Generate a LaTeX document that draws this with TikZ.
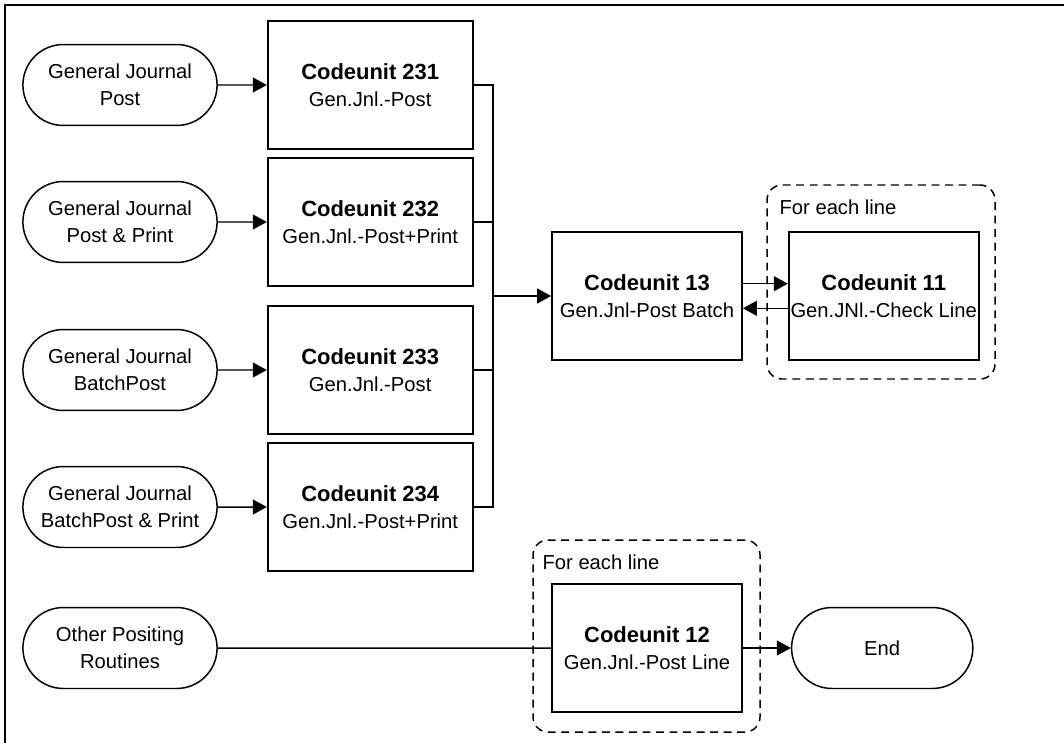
\documentclass[tikz,border=0pt]{standalone}
\usepackage{fontspec}
\setmainfont{Liberation Sans}
\usetikzlibrary{arrows.meta}
\usetikzlibrary{shapes.misc, positioning, fit}
\newcommand{\cuname}[1]{{\fontsize{12.5}{15.3}\selectfont\bfseries Codeunit #1}}

\begin{document}
\begin{tikzpicture}[
        x=0.02cm, y=-0.02cm,
        node distance=0.98cm, % hueco entre ovalo y caja
        every node/.style={font=\fontsize{11.5}{15.3}\selectfont},
        src/.style={draw, line width=0.85pt, rounded rectangle, minimum width=3.92cm, minimum height=1.62cm, align=center, inner sep=0.5pt},
        unit/.style={draw, line width=1pt, minimum width=4.1cm, minimum height=2.56cm, align=center, inner sep=0.5pt},
        cunit/.style={unit, minimum width=3.8cm},
        loop/.style={draw, dash pattern=on 4.5pt off 3.2pt, line width=0.85pt, rounded corners=0.3cm, inner sep=0pt},
        lbl/.style={inner sep=0pt},
        line/.style={line width=0.85pt},
        arr/.style={line, -{Triangle[length=8pt, width=8.5pt]}}
    ]
        \useasboundingbox (0,0) rectangle (1064,743);
        % marco exterior (cortado a la derecha y abajo)
        \draw[line width=1.7pt] (5,743) -- (5,5) -- (1064,5);

        % --- ENTRADAS ---
        \node[src] (gjpost) at (120,85) {General Journal\\Post};
        \node[src] (gjprint) at (120,222) {General Journal\\Post \& Print};
        \node[src] (gjbatch) at (120,370) {General Journal\\BatchPost};
        \node[src] (gjbprint) at (120,507) {General Journal\\BatchPost \& Print};
        \node[src] (other) at (120,648) {Other Positing\\Routines};

        \node[unit, right=of gjpost] (cu231) {\cuname{231}\\Gen.Jnl.-Post};
        \node[unit, right=of gjprint] (cu232) {\cuname{232}\\Gen.Jnl.-Post+Print};
        \node[unit, right=of gjbatch] (cu233) {\cuname{233}\\Gen.Jnl.-Post};
        \node[unit, right=of gjbprint] (cu234) {\cuname{234}\\Gen.Jnl.-Post+Print};

        \draw[arr] (gjpost) -- (cu231);
        \draw[arr] (gjprint) -- (cu232);
        \draw[arr] (gjbatch) -- (cu233);
        \draw[arr] (gjbprint) -- (cu234);

        % --- BATCH ---
        \node[cunit] (cu13) at (647,296) {\cuname{13}\\Gen.Jnl-Post Batch};
        \node[cunit, right=0.9cm of cu13] (cu11) {\cuname{11}\\Gen.JNl.-Check Line};
        \coordinate (bus) at (493,296);

        \draw[line] (cu231.east) -| (bus) |- (cu234.east);
        \draw[line] (cu232.east) -- (cu232.east -| bus);
        \draw[line] (cu233.east) -- (cu233.east -| bus);
        \draw[arr] (bus) -- (cu13.west);
        \draw[arr] ([yshift=7pt]cu13.east) -- ([yshift=7pt]cu11.west);
        \draw[arr] ([yshift=-7pt]cu11.west) -- ([yshift=-7pt]cu13.east);

        \node[loop, fit={(767,185) (995,379)}] (loop1) {};
        \node[lbl, below right=0.3cm and 0.26cm of loop1.north west] (each1) {For each line};

        % --- LINEAS ---
        \node[cunit] (cu12) at (647,648) {\cuname{12}\\Gen.Jnl.-Post Line};
        \node[src, minimum width=3.66cm, right=0.96cm of cu12] (end) {End};

        \draw[line] (other) -- (cu12);
        \draw[arr] (cu12) -- (end);

        \node[loop, fit={(533,540) (760,732)}] (loop2) {};
        \node[lbl, below right=0.3cm and 0.2cm of loop2.north west] (each2) {For each line};
    \end{tikzpicture}
\end{document}
